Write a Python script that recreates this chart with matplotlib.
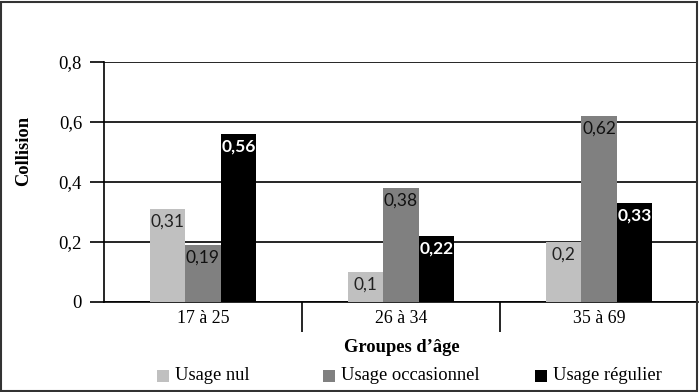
import matplotlib
matplotlib.use("Agg")
import matplotlib.pyplot as plt
from matplotlib.patches import Rectangle
import numpy as np

categories = ["17 à 25", "26 à 34", "35 à 69"]
series_names = ["Usage nul", "Usage occasionnel", "Usage régulier"]
usage_nul = [0.31, 0.10, 0.20]
usage_occ = [0.19, 0.38, 0.62]
usage_reg = [0.56, 0.22, 0.33]
value_labels = [["0,31", "0,1", "0,2"], ["0,19", "0,38", "0,62"], ["0,56", "0,22", "0,33"]]
yticks = [0, 0.2, 0.4, 0.6, 0.8]
ytick_labels = ["0", "0,2", "0,4", "0,6", "0,8"]

colors = ["#c0c0c0", "#808080", "#000000"]
text_colors = ["#222222", "#111111", "white"]
text_weights = ["normal", "normal", "bold"]

serif = ["Liberation Serif", "DejaVu Serif"]
sans = ["Lato", "DejaVu Sans"]

fig = plt.figure(figsize=(7, 3.92), dpi=100)
ax = fig.add_axes([104/700, 1-302/392, 594/700, 240/392])

x = np.arange(len(categories))
w = 0.18
offsets = [-w, 0, w]
for i, (vals, c) in enumerate(zip([usage_nul, usage_occ, usage_reg], colors)):
    bars = ax.bar(x + offsets[i], vals, width=w, color=c, zorder=3, label=series_names[i])
    for b, v, lab in zip(bars, vals, value_labels[i]):
        ax.annotate(lab, (b.get_x() + b.get_width()/2, v), xytext=(0, -3),
                    textcoords="offset points", ha="center", va="top",
                    fontsize=12.5, color=text_colors[i], fontweight=text_weights[i],
                    family=sans, zorder=4)

ax.set_xlim(-0.5, 2.5)
ax.set_ylim(0, 0.8)
ax.set_yticks(yticks)
ax.set_yticklabels(ytick_labels, family=serif, fontsize=13.5)
ax.set_xticks(x)
ax.set_xticklabels(categories, family=serif, fontsize=12.8)
ax.set_xticks([0.5, 1.5], minor=True)
ax.tick_params(axis="x", which="major", length=0, pad=6)
ax.tick_params(axis="x", which="minor", length=21.6, width=1.2, color="black")
ax.tick_params(axis="y", length=10.3, width=1.2, pad=5.5, color="black")
ax.yaxis.grid(True, color="black", linewidth=1.2, zorder=0)
for s in ["top", "right"]:
    ax.spines[s].set_visible(False)
ax.spines["left"].set_linewidth(1.2)
ax.spines["bottom"].set_linewidth(1.2)

fig.text(402/700, 1-348/392, "Groupes d’âge", ha="center", va="center",
         fontsize=13.3, fontweight="bold", family=serif)
fig.text(24/700, 1-151/392, "Collision", ha="center", va="center", rotation=90,
         fontsize=13.3, fontweight="bold", family=serif)

# legend entries (square + text)
leg_sq_x = [157, 323, 535]
leg_y = 376
sq = 12
for c, name, sx in zip(colors, series_names, leg_sq_x):
    fig.patches.append(Rectangle((sx/700, 1-(leg_y+sq/2)/392), sq/700, sq/392,
                                 transform=fig.transFigure, facecolor=c, edgecolor="none"))
    fig.text((sx+sq+6)/700, 1-leg_y/392, name, ha="left", va="center",
             fontsize=13.3, family=serif)

fig.patches.append(Rectangle((0.002, 0.003), 0.994, 0.992, transform=fig.transFigure,
                             fill=False, edgecolor="#333333", linewidth=1.5))

fig.savefig("out.png", dpi=100)
